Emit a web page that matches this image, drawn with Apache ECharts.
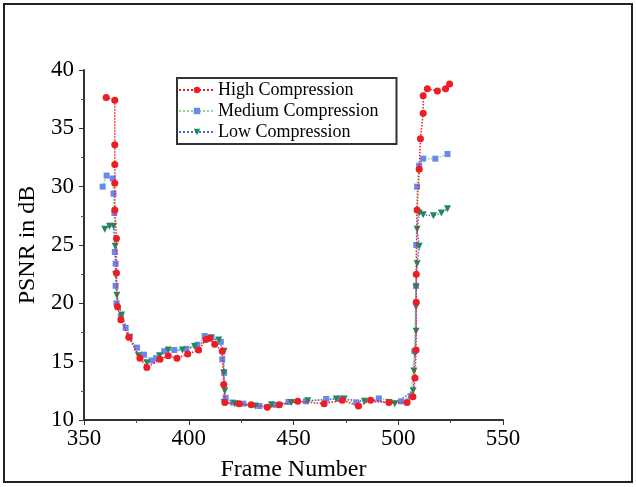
<!DOCTYPE html>
<html>
<head>
<meta charset="utf-8">
<script src="https://cdn.jsdelivr.net/npm/echarts@6/dist/echarts.min.js"></script>
</head>
<body style="margin:0;background:#fff">
<div id="main" style="width:636px;height:487px;"></div>
<script>
  // PSNR per frame: [frame, dB]
  let highComp = [[360.6, 37.65], [364.7, 37.4], [364.7, 33.6], [364.7, 31.9], [364.7, 30.3], [364.7, 28.0], [365.5, 25.55], [365.5, 22.6], [366, 19.7], [367.6, 18.6], [371.4, 17.1], [376.7, 15.3], [380, 14.5], [386.3, 15.2], [390.2, 15.5], [394.4, 15.3], [399.5, 15.65], [404.7, 16.0], [408.2, 16.9], [410, 17.0], [412.4, 16.5], [416, 15.9], [416.7, 13.05], [417.2, 11.5], [424, 11.4], [429.8, 11.3], [437.5, 11.1], [443.3, 11.3], [452, 11.6], [464.6, 11.4], [473.3, 11.7], [481, 11.2], [486.8, 11.7], [495.5, 11.5], [504.2, 11.5], [507, 12.0], [508, 13.6], [508.5, 16.0], [508.6, 20.1], [508.6, 22.5], [509, 28.0], [510, 31.5], [510.6, 34.1], [511.9, 36.3], [511.9, 37.8], [513.9, 38.4], [518.7, 38.2], [522.6, 38.4], [524.5, 38.8]]
  let mediumComp = [[358.9, 30.0], [360.8, 30.95], [363.7, 30.7], [364.1, 29.4], [364.5, 27.75], [364.7, 24.4], [365.1, 23.4], [365.1, 21.5], [365.5, 20.0], [367.6, 18.85], [369.9, 17.9], [371.8, 17.1], [375.3, 16.2], [378.6, 15.6], [382.5, 15.1], [384.4, 15.3], [388.3, 15.9], [393.1, 16.0], [398.9, 16.1], [404.1, 16.45], [407.6, 17.2], [410.9, 17.1], [415.3, 16.7], [416, 15.2], [416.9, 14.05], [417.6, 11.9], [421, 11.5], [426, 11.4], [433.7, 11.2], [441.4, 11.3], [447.6, 11.55], [455.9, 11.6], [465.6, 11.8], [472.3, 11.85], [480, 11.5], [490.7, 11.85], [501.3, 11.6], [506, 12.05], [507.7, 15.9], [508.5, 21.5], [508.6, 25.0], [509, 30.0], [510, 31.8], [511.9, 32.4], [517.7, 32.4], [523.5, 32.8]]
  let lowComp = [[359.9, 26.35], [362.2, 26.6], [364.1, 26.6], [364.9, 24.9], [365.1, 22.45], [365.7, 20.7], [368, 19.0], [371.8, 17.1], [376, 15.5], [380.1, 14.9], [386, 15.5], [390.2, 16.0], [397, 16.0], [402.8, 16.3], [410.5, 17.0], [414.3, 16.85], [416.9, 15.9], [416.7, 14.05], [417.2, 12.5], [416.9, 11.5], [422, 11.4], [431.7, 11.2], [439.5, 11.3], [449, 11.5], [456.8, 11.65], [470.4, 11.8], [474.2, 11.8], [483.9, 11.6], [495.5, 11.5], [498.4, 11.4], [507.1, 12.5], [507.5, 14.2], [508, 15.7], [508.5, 17.6], [508.5, 19.7], [508.5, 21.4], [509, 23.4], [510, 24.9], [509, 26.35], [510, 27.75], [511.9, 27.6], [516.8, 27.5], [520.6, 27.75], [523.5, 28.1]]
  let seriesNames = ['High Compression', 'Medium Compression', 'Low Compression']

  let serif = 'Liberation Serif'
  let chart = echarts.init(document.getElementById('main'))
  chart.setOption({
    animation: false,
    backgroundColor: '#fff',
    graphic: [{
      type: 'rect',
      shape: { x: 4, y: 4, width: 628, height: 478 },
      style: { fill: 'none', stroke: '#222', lineWidth: 2 }
    }],
    legend: {
      data: seriesNames,
      left: 177,
      top: 78,
      orient: 'vertical',
      itemGap: 3,
      itemWidth: 36,
      itemHeight: 8,
      padding: [3, 18, 3, 1],
      borderColor: '#333',
      borderWidth: 2,
      textStyle: { fontFamily: serif, fontSize: 18, color: '#000', padding: [0, 0, 0, -2] }
    },
    grid: { left: 84, right: 133, top: 70, bottom: 63 },
    xAxis: {
      type: 'value',
      min: 350,
      max: 550,
      interval: 50,
      name: 'Frame Number',
      nameLocation: 'middle',
      nameGap: 38,
      nameTextStyle: { fontFamily: serif, fontSize: 24, color: '#000' },
      axisLine: { lineStyle: { color: '#333', width: 2 } },
      axisTick: { length: 5, lineStyle: { color: '#333' } },
      minorTick: { show: true, splitNumber: 2, length: 3, lineStyle: { color: '#555' } },
      axisLabel: { fontFamily: serif, fontSize: 23, color: '#000', margin: 7 },
      splitLine: { show: false }
    },
    yAxis: {
      type: 'value',
      min: 10,
      max: 40,
      interval: 5,
      name: 'PSNR in dB',
      nameLocation: 'middle',
      nameGap: 38,
      nameTextStyle: { fontFamily: serif, fontSize: 24, color: '#000' },
      axisLine: { show: true, lineStyle: { color: '#333', width: 2 } },
      axisTick: { show: true, length: 5, lineStyle: { color: '#333' } },
      minorTick: { show: true, splitNumber: 2, length: 3, lineStyle: { color: '#555' } },
      axisLabel: { fontFamily: serif, fontSize: 23, color: '#000', margin: 10 },
      splitLine: { show: false }
    },
    series: [
      {
        name: seriesNames[0],
        type: 'line',
        data: highComp,
        symbol: 'circle',
        symbolSize: 7,
        itemStyle: { color: '#ee1c24' },
        lineStyle: { color: '#ee1c24', type: 'dotted', width: 1.5 },
        z: 3
      },
      {
        name: seriesNames[1],
        type: 'line',
        data: mediumComp,
        symbol: 'rect',
        symbolSize: 6,
        itemStyle: { color: '#6a87f0' },
        lineStyle: { color: '#7ee07e', type: 'dotted', width: 1.5 },
        z: 2
      },
      {
        name: seriesNames[2],
        type: 'line',
        data: lowComp,
        symbol: 'triangle',
        symbolRotate: 180,
        symbolSize: 7,
        itemStyle: { color: '#1e8a5a' },
        lineStyle: { color: '#4a60e8', type: 'dotted', width: 1.5 },
        z: 2
      }
    ]
  })
</script>
</body>
</html>
